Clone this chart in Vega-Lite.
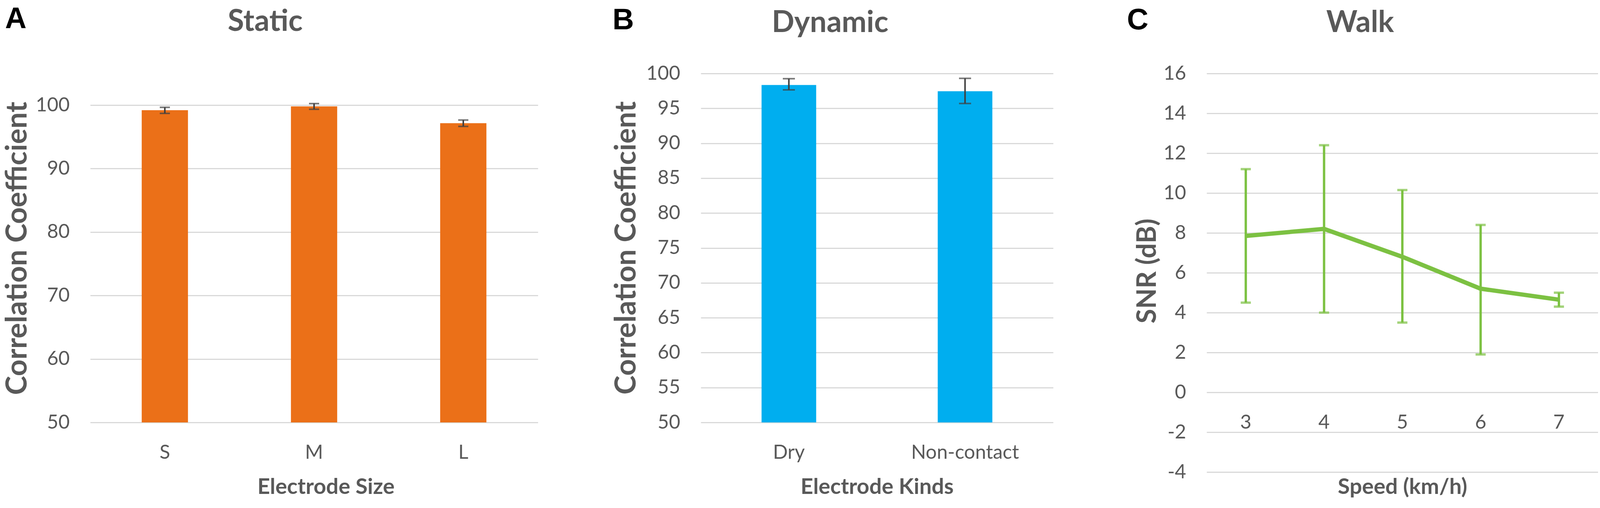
{
  "$schema": "https://vega.github.io/schema/vega-lite/v6.json",
  "padding": {"left": 7, "top": 11, "right": 0, "bottom": 0},
  "spacing": 189,
  "config": {
    "view": {"stroke": null},
    "font": "Lato",
    "axis": {
      "labelFont": "Lato",
      "labelFontSize": 50,
      "labelColor": "#595959",
      "labelLimit": 0,
      "titleFont": "Lato",
      "titleFontWeight": "bold",
      "titleColor": "#595959",
      "titleLimit": 0,
      "domain": false,
      "ticks": false,
      "tickSize": 0,
      "gridColor": "#D9D9D9",
      "gridWidth": 3
    },
    "axisY": {"labelPadding": 53, "titleFontSize": 74, "titleBaseline": "middle", "titleAlign": "center"},
    "axisX": {"labelPadding": 52, "labelAngle": 0, "grid": false, "titleFontSize": 56, "titleBaseline": "alphabetic", "titleAlign": "center"},
    "title": {"font": "Lato", "fontSize": 76, "fontWeight": "bold", "color": "#595959", "baseline": "alphabetic"}
  },
  "datasets": {
    "static": [
      {"size": "S", "mean": 99.2, "lo": 98.7, "hi": 99.65},
      {"size": "M", "mean": 99.8, "lo": 99.35, "hi": 100.25},
      {"size": "L", "mean": 97.15, "lo": 96.65, "hi": 97.65}
    ],
    "dynamic": [
      {"kind": "Dry", "mean": 98.35, "lo": 97.65, "hi": 99.25},
      {"kind": "Non-contact", "mean": 97.45, "lo": 95.7, "hi": 99.3}
    ],
    "walk": [
      {"speed": 3, "mean": 7.85, "lo": 4.5, "hi": 11.2},
      {"speed": 4, "mean": 8.2, "lo": 4.0, "hi": 12.4},
      {"speed": 5, "mean": 6.8, "lo": 3.5, "hi": 10.15},
      {"speed": 6, "mean": 5.2, "lo": 1.9, "hi": 8.4},
      {"speed": 7, "mean": 4.65, "lo": 4.3, "hi": 5.0}
    ]
  },
  "hconcat": [
    {
      "title": {"text": "A", "anchor": "start", "frame": "group", "dx": -218, "offset": -70, "font": "Liberation Sans", "fontSize": 76, "color": "#000000"},
      "hconcat": [
        {
          "width": 1146,
          "height": 1020,
          "data": {"name": "static"},
          "title": {"text": "Static", "anchor": "middle", "frame": "group", "dx": -125, "offset": 93},
          "encoding": {
            "x": {"field": "size", "type": "nominal", "sort": ["S", "M", "L"], "scale": {"paddingInner": 0.69, "paddingOuter": 0.345}, "axis": {"offset": -127, "title": "Electrode Size", "titleX": 603, "titleY": 182}}
          },
          "layer": [
            {
              "mark": {"type": "bar", "color": "#EB7018"},
              "encoding": {
                "y": {"field": "mean", "type": "quantitative", "scale": {"domain": [42.18, 104.99], "nice": false, "zero": false}, "axis": {"values": [50, 60, 70, 80, 90, 100], "title": "Correlation Coefficient", "titleX": -186, "titleY": 447}},
                "y2": {"datum": 50}
              }
            },
            {
              "mark": {"type": "rule", "color": "#404040", "strokeWidth": 4},
              "encoding": {"y": {"field": "lo", "type": "quantitative"}, "y2": {"field": "hi"}}
            },
            {
              "mark": {"type": "tick", "color": "#404040", "thickness": 4, "size": 26},
              "encoding": {"y": {"field": "lo", "type": "quantitative"}}
            },
            {
              "mark": {"type": "tick", "color": "#404040", "thickness": 4, "size": 26},
              "encoding": {"y": {"field": "hi", "type": "quantitative"}}
            }
          ]
        }
      ]
    },
    {
      "title": {"text": "B", "anchor": "start", "frame": "group", "dx": -226, "offset": -70, "font": "Liberation Sans", "fontSize": 76, "color": "#000000"},
      "hconcat": [
        {
          "width": 902,
          "height": 1020,
          "data": {"name": "dynamic"},
          "title": {"text": "Dynamic", "anchor": "middle", "frame": "group", "dx": -120, "offset": 65},
          "encoding": {
            "x": {"field": "kind", "type": "nominal", "sort": ["Dry", "Non-contact"], "scale": {"paddingInner": 0.69, "paddingOuter": 0.345}, "axis": {"offset": -127, "title": "Electrode Kinds", "titleY": 182}}
          },
          "layer": [
            {
              "mark": {"type": "bar", "color": "#00AEEF"},
              "encoding": {
                "y": {"field": "mean", "type": "quantitative", "scale": {"domain": [42.89, 100], "nice": false, "zero": false}, "axis": {"values": [50, 55, 60, 65, 70, 75, 80, 85, 90, 95, 100], "title": "Correlation Coefficient", "titleX": -190, "titleY": 446}},
                "y2": {"datum": 50}
              }
            },
            {
              "mark": {"type": "rule", "color": "#404040", "strokeWidth": 4},
              "encoding": {"y": {"field": "lo", "type": "quantitative"}, "y2": {"field": "hi"}}
            },
            {
              "mark": {"type": "tick", "color": "#404040", "thickness": 4, "size": 31},
              "encoding": {"y": {"field": "lo", "type": "quantitative"}}
            },
            {
              "mark": {"type": "tick", "color": "#404040", "thickness": 4, "size": 31},
              "encoding": {"y": {"field": "hi", "type": "quantitative"}}
            }
          ]
        }
      ]
    },
    {
      "title": {"text": "C", "anchor": "start", "frame": "group", "dx": -204, "offset": -70, "font": "Liberation Sans", "fontSize": 76, "color": "#000000"},
      "hconcat": [
        {
          "width": 1002,
          "height": 1020,
          "data": {"name": "walk"},
          "title": {"text": "Walk", "anchor": "middle", "frame": "group", "dx": -108, "offset": 65},
          "encoding": {
            "x": {"field": "speed", "type": "ordinal", "axis": {"offset": -204, "title": "Speed (km/h)", "titleY": 259}}
          },
          "layer": [
            {
              "mark": {"type": "line", "color": "#7CC142", "strokeWidth": 11, "strokeJoin": "round"},
              "encoding": {
                "y": {"field": "mean", "type": "quantitative", "scale": {"domain": [-4, 16], "nice": false, "zero": false}, "axis": {"values": [-4, -2, 0, 2, 4, 6, 8, 10, 12, 14, 16], "labelExpr": "'' + datum.value", "title": "SNR (dB)", "titleFontSize": 68, "titleX": -151, "titleY": 505}}
              }
            },
            {
              "mark": {"type": "rule", "color": "#7CC142", "strokeWidth": 6},
              "encoding": {"y": {"field": "lo", "type": "quantitative"}, "y2": {"field": "hi"}}
            },
            {
              "mark": {"type": "tick", "color": "#7CC142", "thickness": 6, "size": 26},
              "encoding": {"y": {"field": "lo", "type": "quantitative"}}
            },
            {
              "mark": {"type": "tick", "color": "#7CC142", "thickness": 6, "size": 26},
              "encoding": {"y": {"field": "hi", "type": "quantitative"}}
            }
          ]
        }
      ]
    }
  ]
}
